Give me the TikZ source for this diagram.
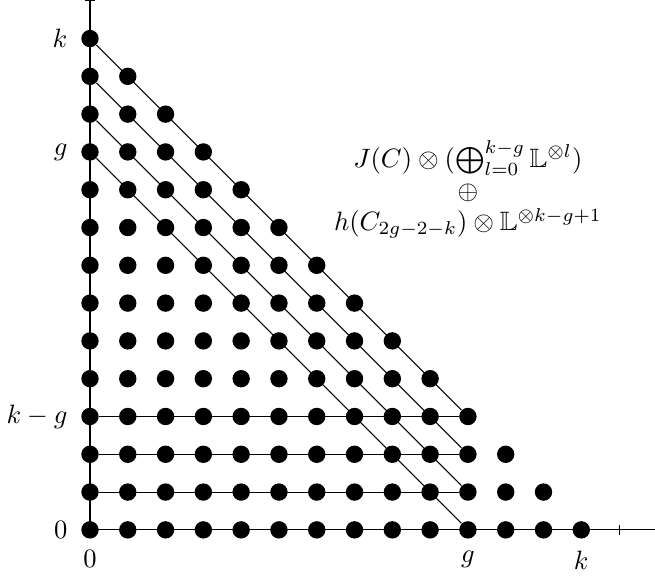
\documentclass[tikz,border=0pt]{standalone}
\usepackage{amsmath,amssymb}
\usetikzlibrary{arrows.meta,positioning}

\begin{document}
\begin{tikzpicture}[
 x=0.5cm,y=0.5cm,
 dot/.style={circle,fill=black,inner sep=0pt,minimum size=0.23cm},
 axis/.style={line width=0.4pt},
 link/.style={line width=0.4pt},
 ticklab/.style={inner sep=0.333em}]
\useasboundingbox (-2.381,-1.296) rectangle (14.95,14.02);
\coordinate (o) at (0,0);
\coordinate (xend) at (15,0);
\coordinate (yend) at (0,14);
\coordinate (xt) at (14,0);
\draw[axis] (o) -- (xend);
\draw[axis] (o) -- (yend);
\draw[axis] ([yshift=-2pt]xt) -- ([yshift=2pt]xt);
\draw[axis] ([xshift=-2pt]yend) -- ([xshift=2pt]yend);
\foreach \j in {0,...,13} {
 \pgfmathtruncatemacro\imax{13-\j}
 \foreach \i in {0,...,\imax}
  \node[dot] (p-\i-\j) at (\i,\j) {};
}
\foreach \m in {0,...,3} {
 \pgfmathtruncatemacro\top{13-\m}
 \pgfmathtruncatemacro\bot{3-\m}
 \draw[link] (p-0-\top) -- (p-10-\bot);
}
\foreach \j in {1,2,3}
 \draw[link] (p-0-\j) -- (p-10-\j);
\node[ticklab,anchor=east] (lk) at (-0.35,13) {$k$};
\node[ticklab,anchor=east] (lg) at (-0.35,10) {$g$};
\node[ticklab,anchor=east] (lkg) at (-0.35,3) {$k-g$};
\node[ticklab,anchor=east] (lz) at (-0.35,0) {$0$};
\node[ticklab,anchor=north] (bz) at (0,-0.3) {$0$};
\node[ticklab,anchor=north] (bg) at (10,-0.3) {$g$};
\node[ticklab,anchor=north] (bk) at (13,-0.3) {$k$};
\node[align=center] (sum) at (10,9)
 {$J(C)\otimes(\bigoplus_{l=0}^{k-g}\mathbb{L}^{\otimes l})$\\
 $\oplus$\\
 $h(C_{2g-2-k})\otimes\mathbb{L}^{\otimes k-g+1}$};
\end{tikzpicture}
\end{document}
